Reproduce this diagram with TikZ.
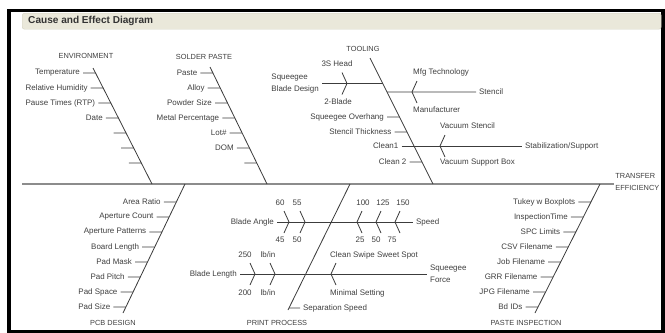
\documentclass[tikz,border=0pt]{standalone}
\usepackage{fontspec}
\setmainfont{Liberation Sans}
\usepackage{tikz}
\usetikzlibrary{positioning,calc}
\definecolor{bonegray}  {HTML}{3C3C3C}
\definecolor{spinegray} {HTML}{8C8C8C}
\definecolor{txtgray}   {HTML}{3F3F3F}
\definecolor{titlebar}  {HTML}{EAE8DA}
\definecolor{titleedge} {HTML}{D6D4C4}

\begin{document}
\begin{tikzpicture}[
  cause/.style={font=\fontsize{6.8}{10}\selectfont,text=txtgray,inner sep=2.5pt,align=left},
  cat/.style={font=\fontsize{6.3}{10}\selectfont,text=txtgray,inner sep=1pt,align=left},
  bone/.style={draw=bonegray,line width=0.7pt},
  spine/.style={draw=spinegray,line width=2pt},
  chevr/.pic={\draw[bone] (-5,-11) -- (0,0) -- (-5,11);},
  chevl/.pic={\draw[bone] (5,-11) -- (0,0) -- (5,11);},
  x=0.03cm,y=-0.03cm
]
\useasboundingbox (0,0) rectangle (665,333);
% Frame and title
\draw[line width=3pt] (9,10.5) rectangle (663,331.5);
\node[draw=titleedge,fill=titlebar,rounded corners=2pt,minimum width=639*0.03cm,
      minimum height=16*0.03cm,anchor=north west] (bar) at (22,13) {};
\node[font=\fontsize{8.6}{10}\selectfont\bfseries,text=black!80,anchor=west,inner sep=0pt]
      (title) at (28,21) {Cause and Effect Diagram};
% Spine
\coordinate (tail) at (22,184);
\node[cat,anchor=west] (effect) at (614,182) {TRANSFER\\EFFICIENCY};
\draw[spine] (tail) -- (tail -| effect.west);
% Environment
\node[cat] (env) at (86,56) {ENVIRONMENT};
\coordinate (envtop) at (93,68);
\coordinate (envfoot) at (152,184);
\draw[bone] (envtop) -- (envfoot);
\node[cause,anchor=east] (temp) at (83,73)    {Temperature};
\node[cause,anchor=east] (hum)  at (90.7,88)  {Relative Humidity};
\node[cause,anchor=east] (rtp)  at (98.3,103) {Pause Times (RTP)};
\node[cause,anchor=east] (date) at (105.9,118){Date};
\node[cause,anchor=east] (env5) at (113.6,133){};
\node[cause,anchor=east] (env6) at (121.2,148){};
\node[cause,anchor=east] (env7) at (128.8,163){};
\foreach \n in {temp,hum,rtp,date,env5,env6,env7}
  \draw[bone] (\n.east) -- (intersection of envtop--envfoot and \n.west--\n.east);
% Solder paste
\node[cat] (solder) at (204,57) {SOLDER PASTE};
\coordinate (soltop) at (210,67);
\coordinate (solfoot) at (267,184);
\draw[bone] (soltop) -- (solfoot);
\node[cause,anchor=east] (paste)  at (200.4,73)  {Paste};
\node[cause,anchor=east] (alloy)  at (207.7,88)  {Alloy};
\node[cause,anchor=east] (powder) at (215,103)   {Powder Size};
\node[cause,anchor=east] (metal)  at (222.3,118) {Metal Percentage};
\node[cause,anchor=east] (lot)    at (229.6,133) {Lot\#};
\node[cause,anchor=east] (dom)    at (236.9,148) {DOM};
\node[cause,anchor=east] (sol7)   at (244.3,163) {};
\foreach \n in {paste,alloy,powder,metal,lot,dom,sol7}
  \draw[bone] (\n.east) -- (intersection of soltop--solfoot and \n.west--\n.east);
% Tooling
\node[cat] (tooling) at (363,49) {TOOLING};
\coordinate (tooltop) at (370,58);
\coordinate (toolfoot) at (433,184);
\draw[bone] (tooltop) -- (toolfoot);
\node[cause,anchor=east] (blade) at (322,83.5) {Squeegee\\Blade Design};
\draw[bone] (blade.east) -- (intersection of tooltop--toolfoot and blade.west--blade.east);
\pic at (347,83.5) {chevr};
\node[cause] (head3s) at (337,64)  {3S Head};
\node[cause] (blade2) at (338,102) {2-Blade};
\node[cause,anchor=west] (stencil) at (476,92) {Stencil};
\draw[bone] (intersection of tooltop--toolfoot and stencil.west--stencil.east) -- (stencil.west);
\pic at (412,92) {chevl};
\node[cause,anchor=west] (mfgtech) at (410,72)  {Mfg Technology};
\node[cause,anchor=west] (manuf)   at (410,110) {Manufacturer};
\node[cause,anchor=east] (overhang) at (387,117)   {Squeegee Overhang};
\node[cause,anchor=east] (thick)    at (394.5,132) {Stencil Thickness};
\node[cause,anchor=east] (clean1)   at (401.5,146) {Clean1};
\node[cause,anchor=east] (clean2)   at (409.5,162) {Clean 2};
\foreach \n in {overhang,thick,clean2}
  \draw[bone] (\n.east) -- (intersection of tooltop--toolfoot and \n.west--\n.east);
\node[cause,anchor=west] (stab) at (522,146) {Stabilization/Support};
\draw[bone] (clean1.east) -- (stab.west);
\pic at (440,146) {chevl};
\node[cause,anchor=west] (vacst)  at (437,126) {Vacuum Stencil};
\node[cause,anchor=west] (vacbox) at (437,163) {Vacuum Support Box};
% PCB design
\node[cat] (pcb) at (113,323) {PCB DESIGN};
\coordinate (pcbroot) at (185,184);
\coordinate (pcbend) at (123,313);
\draw[bone] (pcbroot) -- (pcbend);
\node[cause,anchor=east] (ratio)   at (163.8,202) {Area Ratio};
\node[cause,anchor=east] (apcount) at (156.6,217) {Aperture Count};
\node[cause,anchor=east] (appatt)  at (149.4,232) {Aperture Patterns};
\node[cause,anchor=east] (board)   at (142.2,247) {Board Length};
\node[cause,anchor=east] (mask)    at (135,262)   {Pad Mask};
\node[cause,anchor=east] (pitch)   at (127.8,277) {Pad Pitch};
\node[cause,anchor=east] (space)   at (120.6,292) {Pad Space};
\node[cause,anchor=east] (padsize) at (113.4,307) {Pad Size};
\foreach \n in {ratio,apcount,appatt,board,mask,pitch,space,padsize}
  \draw[bone] (\n.east) -- (intersection of pcbroot--pcbend and \n.west--\n.east);
% Print process
\node[cat] (print) at (277,323) {PRINT PROCESS};
\coordinate (prtroot) at (350,184);
\coordinate (prtend) at (288,310);
\draw[bone] (prtroot) -- (prtend);
\node[cause,anchor=east] (angle) at (277,222) {Blade Angle};
\node[cause,anchor=west] (speed) at (413,222) {Speed};
\draw[bone] (angle.east) -- (speed.west);
\pic at (289,222) {chevr};
\pic at (305,222) {chevr};
\pic at (357,222) {chevl};
\pic at (376,222) {chevl};
\pic at (395,222) {chevl};
\node[cause] (a60) at (280,203) {60};
\node[cause] (a55) at (297,203) {55};
\node[cause] (a45) at (280,240) {45};
\node[cause] (a50) at (297,240) {50};
\node[cause] (s100) at (363,203) {100};
\node[cause] (s125) at (383,203) {125};
\node[cause] (s150) at (403,203) {150};
\node[cause] (s25)  at (360,240) {25};
\node[cause] (s50)  at (376,240) {50};
\node[cause] (s75)  at (392,240) {75};
\node[cause,anchor=east] (length) at (240,274) {Blade Length};
\node[cause,anchor=west] (force)  at (427,274) {Squeegee\\Force};
\draw[bone] (length.east) -- (force.west);
\pic at (255,274) {chevr};
\pic at (275,274) {chevr};
\pic at (331,274) {chevl};
\node[cause] (l250)  at (245,255) {250};
\node[cause] (lbup)  at (268,255) {lb/in};
\node[cause] (l200)  at (245,293) {200};
\node[cause] (lbdn)  at (268,293) {lb/in};
\node[cause,anchor=west] (sweet)   at (327,255) {Clean Swipe Sweet Spot};
\node[cause,anchor=west] (minimal) at (327,293) {Minimal Setting};
\node[cause,anchor=west] (sepspd)  at (300,308) {Separation Speed};
\draw[bone] (sepspd.west) -- (intersection of prtroot--prtend and sepspd.west--sepspd.east);
% Paste inspection
\node[cat] (insp) at (526,323) {PASTE INSPECTION};
\coordinate (insroot) at (600,184);
\coordinate (insend) at (535,313);
\draw[bone] (insroot) -- (insend);
\node[cause,anchor=east] (tukey)  at (578.4,202) {Tukey w Boxplots};
\node[cause,anchor=east] (itime)  at (570.9,217) {InspectionTime};
\node[cause,anchor=east] (spc)    at (563.3,232) {SPC Limits};
\node[cause,anchor=east] (csv)    at (555.8,247) {CSV Filename};
\node[cause,anchor=east] (job)    at (548.2,262) {Job Filename};
\node[cause,anchor=east] (grr)    at (540.6,277) {GRR Filename};
\node[cause,anchor=east] (jpg)    at (533.1,292) {JPG Filename};
\node[cause,anchor=east] (bdids)  at (525.5,307) {Bd IDs};
\foreach \n in {tukey,itime,spc,csv,job,grr,jpg,bdids}
  \draw[bone] (\n.east) -- (intersection of insroot--insend and \n.west--\n.east);
\end{tikzpicture}
\end{document}
